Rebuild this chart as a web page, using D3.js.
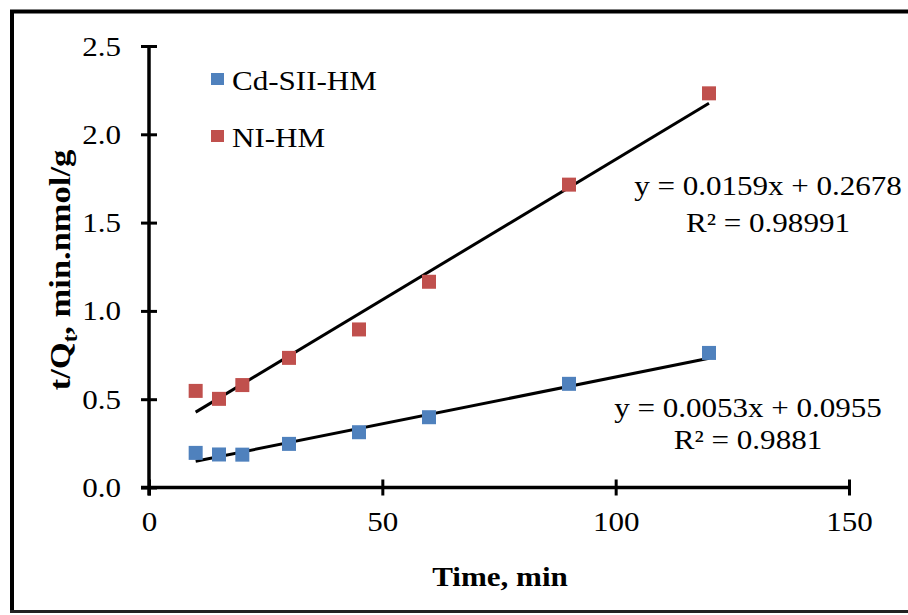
<!DOCTYPE html>
<html>
<head>
<meta charset="utf-8">
<script src="https://cdn.jsdelivr.net/npm/d3@7"></script>
<style>
  body { margin: 0; background: #fff; }
  text { font-family: "Liberation Serif", "Times New Roman", serif; fill: #000; }
</style>
</head>
<body>
<div id="chart"></div>
<script>
// data
const times = [10, 15, 20, 30, 45, 60, 90, 120];
const cdValues = [0.196, 0.187, 0.186, 0.247, 0.313, 0.398, 0.587, 0.762];
const niValues = [0.547, 0.502, 0.58, 0.734, 0.895, 1.165, 1.715, 2.232];
const seriesNames = ["Cd-SII-HM", "NI-HM"];
const seriesColors = ["#4F81BD", "#C0504D"];
// trendlines as printed on the chart
const slopes = [0.0053, 0.0159];
const intercepts = [0.0955, 0.2678];
const eqLabels = ["y = 0.0053x + 0.0955", "y = 0.0159x + 0.2678"];
const r2Labels = ["R² = 0.9881", "R² = 0.98991"];
const xTicks = [0, 50, 100, 150];
const yTicks = [0, 0.5, 1, 1.5, 2, 2.5];

const W = 908, H = 615;
const margin = { top: 46, right: 59, bottom: 127.5, left: 149 },
    width = W - margin.left - margin.right,
    height = H - margin.top - margin.bottom;
const sx = 1.15; // text in the picture is a bit wide

const svg = d3.select("#chart").append("svg")
    .attr("width", W)
    .attr("height", H);

// outer frame
svg.append("path")
    .attr("d", "M12,612 L12,11.5 L908,11.5")
    .attr("fill", "none")
    .attr("stroke", "#000")
    .attr("stroke-width", 4);
svg.append("line")
    .attr("x1", 10).attr("x2", 908).attr("y1", 611.5).attr("y2", 611.5)
    .attr("stroke", "#222").attr("stroke-width", 3);

const g = svg.append("g")
    .attr("transform", "translate(" + margin.left + "," + margin.top + ")");

const x = d3.scaleLinear().domain([0, 150]).range([0, width]);
const y = d3.scaleLinear().domain([0, 2.5]).range([height, 0]);

// axes
const xAxis = g.append("g")
    .attr("transform", "translate(0," + height + ")")
    .call(d3.axisBottom(x).tickValues(xTicks).tickSize(0).tickPadding(0).tickFormat(d3.format("d")));
const yAxis = g.append("g")
    .call(d3.axisLeft(y).tickValues(yTicks).tickSize(0).tickPadding(0).tickFormat(d3.format(".1f")));

[xAxis, yAxis].forEach(a => {
    a.select(".domain").attr("stroke", "#000").attr("stroke-width", 3.5);
    a.selectAll(".tick text").remove();
});
xAxis.select(".domain").attr("d", "M-8,0H" + (width + 1.5));
yAxis.select(".domain").attr("d", "M0," + (height + 8) + "V-1");

xAxis.selectAll(".tick").append("line")
    .attr("y1", -8).attr("y2", 8)
    .attr("stroke", "#000").attr("stroke-width", 3);
xAxis.selectAll(".tick").append("text")
    .attr("transform", "translate(0,43) scale(" + sx + ",1)")
    .attr("text-anchor", "middle")
    .attr("font-size", 27)
    .text(d => d3.format("d")(d));

yAxis.selectAll(".tick").append("line")
    .attr("x1", -8).attr("x2", 8)
    .attr("stroke", "#000").attr("stroke-width", 3);
yAxis.selectAll(".tick").append("text")
    .attr("transform", "translate(-28,9) scale(" + sx + ",1)")
    .attr("text-anchor", "end")
    .attr("font-size", 27)
    .text(d => d3.format(".1f")(d));

// axis titles
svg.append("text")
    .attr("transform", "translate(500,586) scale(" + sx + ",1)")
    .attr("text-anchor", "middle")
    .attr("font-size", 27)
    .attr("font-weight", "bold")
    .text("Time, min");

const yt = svg.append("text")
    .attr("transform", "translate(70,270) rotate(-90) scale(" + sx + ",1)")
    .attr("text-anchor", "middle")
    .attr("font-size", 30)
    .attr("font-weight", "bold");
yt.append("tspan").text("t/Q");
yt.append("tspan").attr("font-size", 20).attr("dy", 7).text("t");
yt.append("tspan").attr("dy", -7).text(", min.nmol/g");

// trendlines
const seriesData = [cdValues, niValues];
seriesData.forEach((vals, i) => {
    const x0 = d3.min(times), x1 = d3.max(times);
    g.append("line")
        .attr("x1", x(x0)).attr("y1", y(slopes[i] * x0 + intercepts[i]))
        .attr("x2", x(x1)).attr("y2", y(slopes[i] * x1 + intercepts[i]))
        .attr("stroke", "#000").attr("stroke-width", 3);
});

// markers
const ms = 14;
seriesData.forEach((vals, i) => {
    g.selectAll(".pt" + i)
        .data(vals)
        .enter().append("rect")
        .attr("x", (d, j) => x(times[j]) - ms / 2)
        .attr("y", d => y(d) - ms / 2)
        .attr("width", ms).attr("height", ms)
        .attr("fill", seriesColors[i]);
});

// equation labels
const eqPos = [[748, 417, 449], [768, 195, 232]];
eqLabels.forEach((t, i) => {
    svg.append("text")
        .attr("transform", "translate(" + eqPos[i][0] + "," + eqPos[i][1] + ") scale(" + sx + ",1)")
        .attr("text-anchor", "middle").attr("font-size", 27).text(t);
    svg.append("text")
        .attr("transform", "translate(" + eqPos[i][0] + "," + eqPos[i][2] + ") scale(" + sx + ",1)")
        .attr("text-anchor", "middle").attr("font-size", 27).text(r2Labels[i]);
});

// legend
seriesNames.forEach((n, i) => {
    const ly = 79 + i * 57;
    svg.append("rect")
        .attr("x", 211).attr("y", ly - 6)
        .attr("width", 13).attr("height", 12)
        .attr("fill", seriesColors[i]);
    svg.append("text")
        .attr("transform", "translate(232," + (ly + 11) + ") scale(" + sx + ",1)")
        .attr("font-size", 27).text(n);
});
</script>
</body>
</html>
